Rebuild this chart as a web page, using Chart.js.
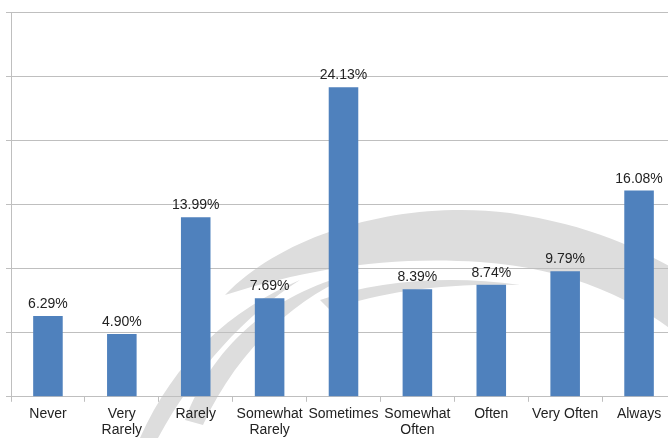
<!DOCTYPE html>
<html>
<head>
<meta charset="utf-8">
<script src="https://cdn.jsdelivr.net/npm/chart.js@4.4.0/dist/chart.umd.min.js"></script>
<style>
html,body{margin:0;padding:0;background:#fff;overflow:hidden;}
#wrap{width:668px;height:438px;overflow:hidden;position:relative;}
canvas{display:block;}
</style>
</head>
<body>
<div id="wrap"><canvas id="c" width="690" height="442"></canvas></div>
<script>
const categories = [["Never"], ["Very", "Rarely"], ["Rarely"], ["Somewhat", "Rarely"], ["Sometimes"], ["Somewhat", "Often"], ["Often"], ["Very Often"], ["Always"]];
const percentages = [6.29, 4.90, 13.99, 7.69, 24.13, 8.39, 8.74, 9.79, 16.08];
const valueLabels = ["6.29%", "4.90%", "13.99%", "7.69%", "24.13%", "8.39%", "8.74%", "9.79%", "16.08%"];

const FONT = "'Liberation Sans', Arial, sans-serif";

const watermark = {
  id: 'watermark',
  beforeDraw(chart) {
    const ctx = chart.ctx;
    ctx.save();
    ctx.fillStyle = '#dddddd';
    // main crescent band
    ctx.beginPath();
    ctx.moveTo(225, 295);
    ctx.bezierCurveTo(290, 228, 410, 200, 510, 213);
    ctx.bezierCurveTo(590, 225, 640, 248, 690, 278);
    ctx.lineTo(690, 345);
    ctx.bezierCurveTo(640, 300, 570, 268, 480, 262);
    ctx.bezierCurveTo(390, 256, 310, 268, 225, 295);
    ctx.closePath();
    ctx.fill();
    // lower sweeping strokes
    ctx.beginPath();
    ctx.moveTo(185, 420);
    ctx.bezierCurveTo(215, 340, 280, 290, 360, 272);
    ctx.bezierCurveTo(300, 295, 240, 345, 203, 425);
    ctx.closePath();
    ctx.fill();
    ctx.beginPath();
    ctx.moveTo(140, 438);
    ctx.bezierCurveTo(175, 360, 230, 310, 300, 280);
    ctx.bezierCurveTo(245, 315, 195, 370, 158, 438);
    ctx.closePath();
    ctx.fill();
    ctx.beginPath();
    ctx.moveTo(320, 300);
    ctx.bezierCurveTo(380, 280, 450, 275, 520, 285);
    ctx.bezierCurveTo(450, 283, 385, 290, 330, 310);
    ctx.closePath();
    ctx.fill();
    ctx.restore();
  }
};

const valueLabelPlugin = {
  id: 'valueLabels',
  afterDatasetsDraw(chart) {
    const ctx = chart.ctx;
    const meta = chart.getDatasetMeta(0);
    ctx.save();
    ctx.font = '14px ' + FONT;
    ctx.fillStyle = '#222';
    ctx.textAlign = 'center';
    ctx.textBaseline = 'alphabetic';
    meta.data.forEach((bar, i) => {
      ctx.fillText(valueLabels[i], bar.x, bar.y - 8);
    });
    ctx.restore();
  }
};

new Chart(document.getElementById('c'), {
  type: 'bar',
  data: {
    labels: categories,
    datasets: [{
      data: percentages,
      backgroundColor: '#4f81bd',
      borderWidth: 0,
      barPercentage: 0.4,
      categoryPercentage: 1.0
    }]
  },
  options: {
    responsive: false,
    animation: false,
    layout: { padding: { left: 6, right: 14, top: 12, bottom: 0 } },
    plugins: { legend: { display: false }, tooltip: { enabled: false } },
    scales: {
      x: {
        grid: { drawOnChartArea: false, drawTicks: true, tickLength: 5, color: '#bfbfbf', offset: true },
        border: { color: '#bfbfbf', width: 1 },
        ticks: { color: '#222', font: { family: FONT, size: 14, lineHeight: 1.15 }, padding: 4, maxRotation: 0, autoSkip: false }
      },
      y: {
        min: 0, max: 30,
        ticks: { display: false, stepSize: 5 },
        grid: { color: '#bfbfbf', tickLength: 5, drawTicks: true },
        border: { color: '#bfbfbf', width: 1 }
      }
    }
  },
  plugins: [watermark, valueLabelPlugin]
});
</script>
</body>
</html>
